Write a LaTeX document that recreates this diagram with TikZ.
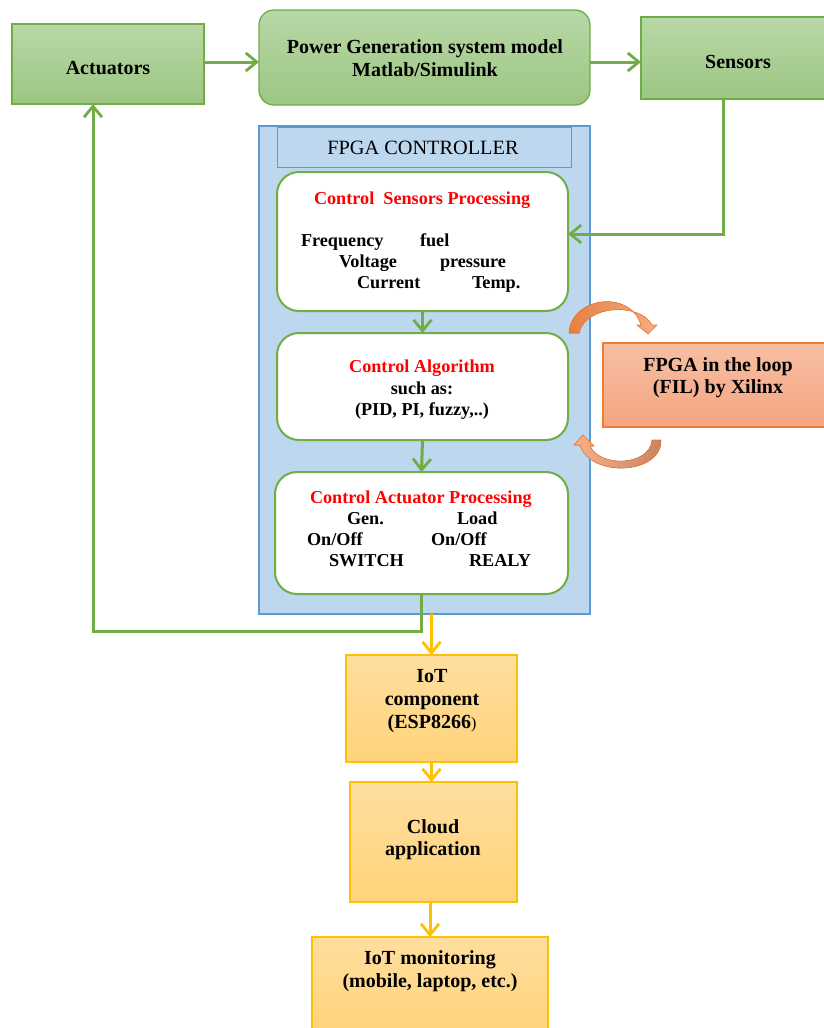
\documentclass[tikz,border=0pt]{standalone}
\usepackage{fontspec}
\setmainfont{Liberation Serif}
\usetikzlibrary{arrows.meta,calc}

\definecolor{gtop}{RGB}{184,216,167}
\definecolor{gbot}{RGB}{156,198,130}
\definecolor{gline}{RGB}{112,173,71}
\definecolor{bfill}{RGB}{189,215,238}
\definecolor{bline}{RGB}{91,155,213}
\definecolor{ytop}{RGB}{255,222,158}
\definecolor{ybot}{RGB}{255,211,122}
\definecolor{yline}{RGB}{255,192,0}
\definecolor{stop}{RGB}{247,190,163}
\definecolor{sbot}{RGB}{244,166,129}
\definecolor{oline}{RGB}{237,125,49}
\definecolor{redtxt}{RGB}{255,0,0}
\definecolor{oarrowa}{RGB}{228,128,68}
\definecolor{oarrowb}{RGB}{246,172,132}
\definecolor{oarrowc}{RGB}{246,176,140}
\definecolor{oarrowd}{RGB}{200,132,96}

\tikzset{
  every node/.style={inner sep=0pt, outer sep=0pt},
  greenbox/.style={draw=gline, line width=1.3pt, top color=gtop, bottom color=gbot},
  innerbox/.style={draw=gline, line width=2pt, fill=white, rounded corners=22pt},
  yellowbox/.style={draw=yline, line width=1.2pt, top color=ytop, bottom color=ybot},
  lbl/.style={anchor=base, font=\fontsize{18.2}{22}\selectfont\bfseries},
  lblw/.style={anchor=base west, font=\fontsize{18.2}{22}\selectfont\bfseries},
  biglbl/.style={anchor=base, font=\fontsize{20}{24}\selectfont\bfseries},
  redlbl/.style={lbl, text=redtxt},
  garrow/.style={draw=gline, line width=3pt, -{Straight Barb[length=11pt,width=18pt,line width=2.8pt]}},
  yarrow/.style={draw=yline, line width=3pt, -{Straight Barb[length=11pt,width=18pt,line width=2.8pt]}},
}

\begin{document}
\begin{tikzpicture}[x=1pt,y=-1pt]
\useasboundingbox (0,0) rectangle (823,1028);

% top row
\node[greenbox, minimum width=192, minimum height=80] (act) at (108,64) {};
\node[greenbox, rounded corners=15pt, minimum width=331, minimum height=95] (pow) at (424.5,57.5) {};
\node[greenbox, minimum width=189, minimum height=82] (sen) at (735.5,58) {};
\node[biglbl] at (108,74) {Actuators};
\node[biglbl] at (425,53) {Power Generation system model};
\node[biglbl] at (425,76) {Matlab/Simulink};
\node[biglbl] at (738,68) {Sensors};

% FPGA controller frame
\node[draw=bline, line width=2pt, fill=bfill, minimum width=331, minimum height=488] (fpga) at (424.5,370) {};
\node[draw=bline, line width=0.9pt, fill=bfill, minimum width=294, minimum height=40] (ttl) at (424,147) {};
\node[anchor=base, font=\fontsize{20.3}{24}\selectfont] at (423,154) {FPGA CONTROLLER};

% inner processing stages
\node[innerbox, minimum width=291, minimum height=139] (csp) at (422.5,241.5) {};
\node[innerbox, minimum width=291, minimum height=107] (alg) at (422.5,386.5) {};
\node[innerbox, minimum width=293, minimum height=122] (acp) at (421.5,533) {};

\node[redlbl, anchor=base west] at (314,204) {Control~ Sensors Processing};
\node[lblw] at (301,246) {Frequency};
\node[lblw] at (420,246) {fuel};
\node[lblw] at (339,267) {Voltage};
\node[lblw] at (440,267) {pressure};
\node[lblw] at (357,288) {Current};
\node[lblw] at (472,288) {Temp.};

\node[redlbl] at (422,372) {Control Algorithm};
\node[lbl] at (422,394) {such as:};
\node[lbl] at (422,415) {(PID, PI, fuzzy,..)};

\node[redlbl, anchor=base west] at (310,503) {Control Actuator Processing};
\node[lblw] at (347,524) {Gen.};
\node[lblw] at (457,524) {Load};
\node[lblw] at (307,545) {On/Off};
\node[lblw] at (431,545) {On/Off};
\node[lblw] at (329,566) {SWITCH};
\node[lblw] at (469,566) {REALY};

% FPGA-in-the-loop block
\node[draw=oline, line width=1.2pt, top color=stop, bottom color=sbot, minimum width=227, minimum height=84] (fil) at (716.5,385) {};
\node[biglbl] at (718,371) {FPGA in the loop};
\node[biglbl] at (718,393) {(FIL) by Xilinx};

% IoT chain
\node[yellowbox, minimum width=171, minimum height=107] (iot) at (431.5,708.5) {};
\node[yellowbox, minimum width=167, minimum height=120] (cld) at (433.5,842) {};
\node[yellowbox, minimum width=236, minimum height=97] (mon) at (430,985.5) {};
\node[biglbl] at (432,682) {IoT};
\node[biglbl] at (432,705) {component};
\node[biglbl] at (432,728) {(ESP8266\textmd{\fontsize{16}{18}\selectfont)}};
\node[biglbl] at (433,833) {Cloud};
\node[biglbl] at (433,855) {application};
\node[biglbl] at (430,964) {IoT monitoring};
\node[biglbl] at (430,987) {(mobile, laptop, etc.)};

% connectors
\coordinate (ya) at (0,62);
\draw[garrow] (act.east |- ya) -- (pow.west |- ya);
\draw[garrow] (pow.east |- ya) -- (sen.west |- ya);

\coordinate (sdrop) at (723,234);
\draw[garrow] (sdrop |- sen.south) -- (sdrop) -- (csp.east |- sdrop);

\draw[garrow] (csp.south) -- (alg.north);
\draw[garrow] (alg.south) -- (acp.north);

\coordinate (fb) at (93,631);
\draw[garrow] (acp.south) |- (fb) -- (fb |- act.south);

\draw[yarrow] (iot.north |- fpga.south) -- (iot.north);
\draw[yarrow] (iot.south) -- (iot.south |- cld.north);
\draw[yarrow] (mon.north |- cld.south) -- (mon.north);

% curved block arrows to and from the FIL block
\filldraw[draw=oline, line width=0.6pt, left color=oarrowa, right color=oarrowb]
  (569,333) .. controls (571,297) and (630,289) .. (641,325) -- (637,325) -- (648,334) -- (657,325) -- (652,325)
  .. controls (640,302) and (585,305) .. (579,333) -- cycle;
\filldraw[draw=oline, line width=0.6pt, left color=oarrowc, right color=oarrowd]
  (661,440) .. controls (662,475) and (590,478) .. (580,445) -- (574,445) -- (583,435) -- (594,446) -- (590,446)
  .. controls (600,468) and (650,466) .. (652,440) -- cycle;
\end{tikzpicture}
\end{document}
